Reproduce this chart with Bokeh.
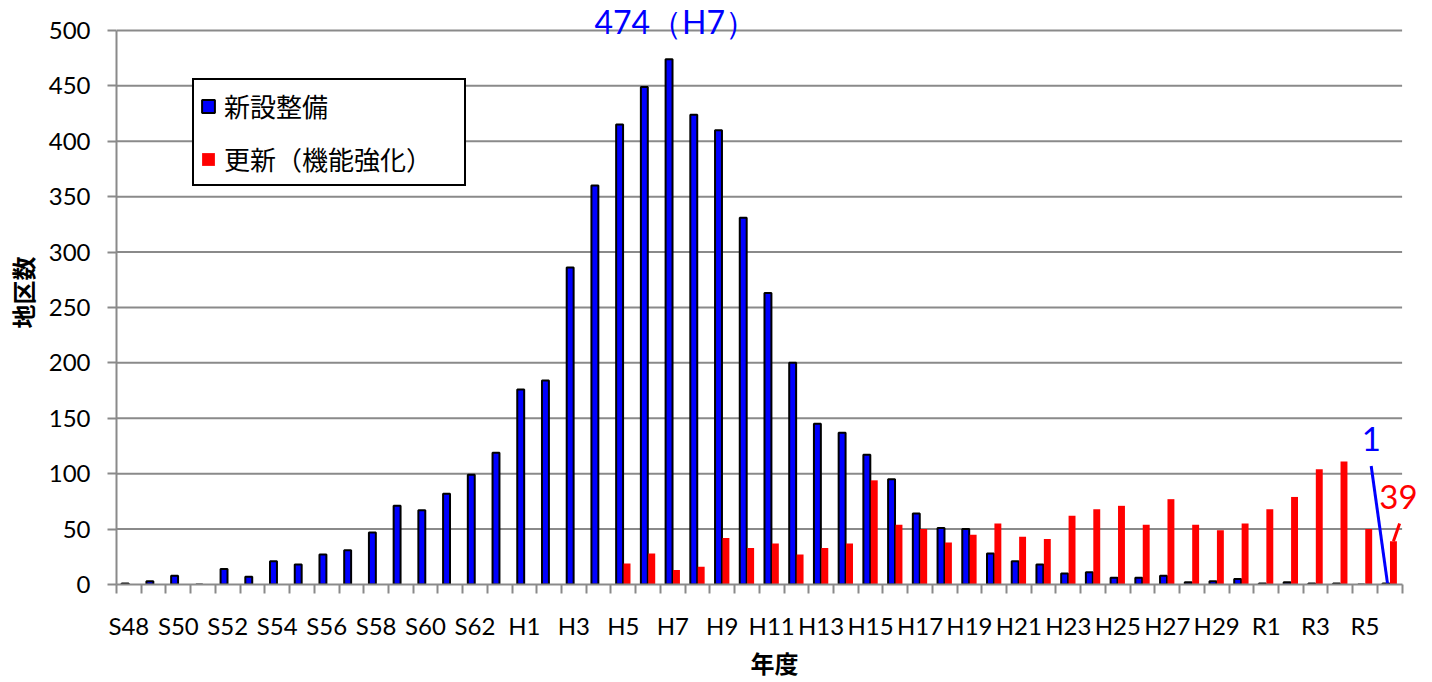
from bokeh.plotting import figure
from bokeh.models import (Range1d, FixedTicker, Label, Legend, LegendItem,
                          ColumnDataSource)
from bokeh.embed import file_html
from bokeh.resources import INLINE

# ---------------- data ----------------
years = ([f"S{n}" for n in range(48, 64)] +
         [f"H{n}" for n in range(1, 31)] +
         [f"R{n}" for n in range(1, 7)])

new_count = [1, 3, 8, 0, 14, 7, 21, 18, 27, 31, 47, 71, 67, 82, 99, 119,
             176, 184, 286, 360, 415, 449, 474, 424, 410, 331, 263, 200, 145, 137,
             117, 95, 64, 51, 50, 28, 21, 18, 10, 11, 6, 6, 8, 2, 3, 5,
             1, 2, 1, 1, 0, 1]

renew_count = [0] * 16 + [0, 0, 0, 0, 19, 28, 13, 16, 42, 33, 37, 27, 33, 37,
                          94, 54, 50, 38, 45, 55, 43, 41, 62, 68, 71, 54, 77, 54, 49, 55,
                          68, 79, 104, 111, 50, 39]

series_names = ["新設整備", "更新（機能強化）"]
y_ticks = list(range(0, 501, 50))

GRAY = "#8a8a8a"
LATIN = "Lato"
JP = "Noto Sans CJK JP"

n = len(years)
centers = [i + 0.5 for i in range(n)]
src = ColumnDataSource(dict(
    xb=[c - 0.15 for c in centers],
    xr=[c + 0.15 for c in centers],
    new=new_count,
    renew=renew_count,
))

p = figure(width=1432, height=682, output_backend="svg", toolbar_location=None,
           title=None,
           x_range=Range1d(0, n + 1.23), y_range=Range1d(0, 527),
           min_border_left=116, min_border_right=0, min_border_top=0,
           min_border_bottom=96)
p.outline_line_color = None
p.background_fill_color = "white"

# horizontal grid lines (limited to the category span)
p.segment(x0=[0] * (len(y_ticks) - 1), x1=[n] * (len(y_ticks) - 1),
          y0=y_ticks[1:], y1=y_ticks[1:], line_color=GRAY, line_width=2)

blue = p.vbar(x="xb", top="new", width=0.28, source=src, fill_color="#0000ff",
              line_color="black", line_width=2)
red = p.vbar(x="xr", top="renew", width=0.28, source=src, fill_color="#ff0000",
             line_color=None)

# x axis
xa = p.xaxis[0]
xa.bounds = (0, n)
xa.ticker = FixedTicker(ticks=[centers[i] for i in range(0, n, 2)],
                        minor_ticks=list(range(0, n + 1)))
xa.major_label_overrides = {centers[i]: years[i] for i in range(0, n, 2)}
xa.major_tick_out = 0
xa.major_tick_in = 0
xa.minor_tick_out = 9
xa.minor_tick_in = 0
xa.minor_tick_line_color = GRAY
xa.minor_tick_line_width = 2
xa.axis_line_color = GRAY
xa.axis_line_width = 2
xa.major_label_text_font = LATIN
xa.major_label_text_font_size = "24px"
xa.major_label_text_color = "black"
xa.major_label_standoff = 17
xa.axis_label = "年度"
xa.axis_label_text_font = JP
xa.axis_label_text_font_style = "bold"
xa.axis_label_text_font_size = "24px"
xa.axis_label_text_color = "black"
xa.axis_label_standoff = 2

# y axis
ya = p.yaxis[0]
ya.bounds = (0, 500)
ya.ticker = FixedTicker(ticks=y_ticks)
ya.major_tick_out = 9
ya.major_tick_in = 0
ya.minor_tick_out = 0
ya.minor_tick_in = 0
ya.major_tick_line_color = GRAY
ya.major_tick_line_width = 2
ya.axis_line_color = GRAY
ya.axis_line_width = 2
ya.major_label_text_font = LATIN
ya.major_label_text_font_size = "24px"
ya.major_label_text_color = "black"
ya.major_label_standoff = 17
ya.axis_label = "地区数"
ya.axis_label_text_font = JP
ya.axis_label_text_font_style = "bold"
ya.axis_label_text_font_size = "24px"
ya.axis_label_text_color = "black"
ya.axis_label_standoff = 6

p.xgrid.visible = False
p.ygrid.visible = False

# legend
legend = Legend(items=[LegendItem(label=series_names[0], renderers=[blue]),
                       LegendItem(label=series_names[1], renderers=[red])],
                location=(76, 398))
legend.label_text_font = JP
legend.label_text_font_size = "26px"
legend.label_text_color = "black"
legend.glyph_width = 16
legend.glyph_height = 16
legend.label_standoff = 8
legend.label_height = 39
legend.label_width = 234
legend.spacing = 14
legend.padding = 6
legend.margin = 0
legend.border_line_color = "black"
legend.border_line_alpha = 1
legend.border_line_width = 2
legend.background_fill_color = "white"
legend.background_fill_alpha = 1
p.add_layout(legend, "center")

# annotations
imax = max(range(n), key=lambda i: new_count[i])
p.add_layout(Label(x=centers[imax] + 0.12, y=508,
                   text=f"{new_count[imax]}（{years[imax]}）",
                   text_font=LATIN, text_font_size="32px", text_color="#0000ff",
                   text_align="center", text_baseline="middle"))

last = n - 1
bx = centers[last] - 0.15
rx = centers[last] + 0.15
p.segment(x0=[bx - 0.6], y0=[new_count[last] + 106], x1=[bx + 0.06],
          y1=[new_count[last]], line_color="#0000ff", line_width=3)
p.add_layout(Label(x=bx - 0.59, y=new_count[last] + 130, text=str(new_count[last]),
                   text_font=LATIN, text_font_size="33px", text_color="#0000ff",
                   text_align="center", text_baseline="middle"))
p.segment(x0=[rx + 0.25], y0=[renew_count[last] + 16], x1=[rx],
          y1=[renew_count[last]], line_color="#ff0000", line_width=3)
p.add_layout(Label(x=rx + 0.2, y=renew_count[last] + 40, text=str(renew_count[last]),
                   text_font=LATIN, text_font_size="33px", text_color="#ff0000",
                   text_align="center", text_baseline="middle"))

open("out.html", "w").write(file_html(p, INLINE))
